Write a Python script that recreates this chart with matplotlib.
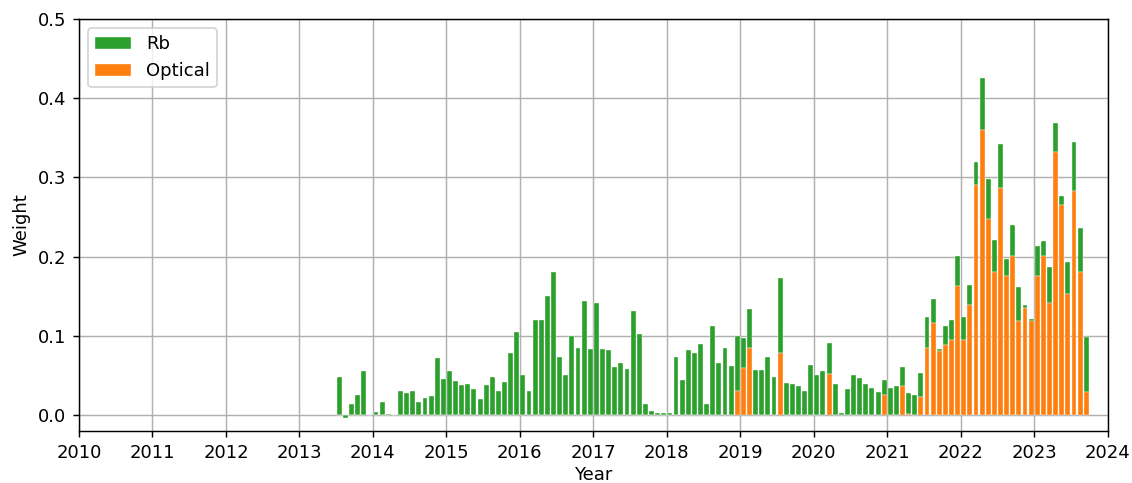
import numpy as np
import matplotlib
matplotlib.use("Agg")
import matplotlib.pyplot as plt

## Data: monthly weights, Jul 2013 .. Sep 2023 ##
start_year = 2013
start_month = 7

rb = [
    # 2013 Jul-Dec
    0.048, -0.004, 0.0135, 0.026, 0.0557, 0.0,
    # 2014
    0.0034, 0.017, 0.0015, 0.0, 0.030, 0.028, 0.030, 0.017, 0.0215, 0.0245, 0.0717, 0.046,
    # 2015
    0.0557, 0.0426, 0.038, 0.039, 0.033, 0.0198, 0.038, 0.0477, 0.030, 0.0414, 0.0785, 0.1046,
    # 2016
    0.0506, 0.031, 0.1207, 0.1207, 0.1498, 0.1806, 0.0734, 0.0506, 0.0996, 0.0848, 0.1435, 0.083,
    # 2017
    0.1418, 0.083, 0.0819, 0.0603, 0.0654, 0.0578, 0.132, 0.103, 0.0135, 0.0055, 0.0028, 0.0028,
    # 2018
    0.0028, 0.0734, 0.0443, 0.0819, 0.078, 0.0899, 0.0135, 0.1127, 0.0654, 0.0848, 0.062, 0.0686,
    # 2019
    0.0389, 0.049, 0.0574, 0.0574, 0.0734, 0.0477, 0.0946, 0.041, 0.039, 0.0363, 0.031, 0.0637,
    # 2020
    0.0506, 0.0557, 0.0393, 0.0397, 0.0025, 0.033, 0.0506, 0.0473, 0.039, 0.0346, 0.0295, 0.0193,
    # 2021
    0.0346, 0.0363, 0.024, 0.0263, 0.025, 0.0295, 0.0388, 0.0308, 0.0016, 0.0241, 0.0257, 0.0371,
    # 2022
    0.0287, 0.0258, 0.0291, 0.0655, 0.051, 0.0405, 0.0548, 0.021, 0.0393, 0.0426, 0.0034, 0.0016,
    # 2023 Jan-Sep
    0.037, 0.0194, 0.0455, 0.037, 0.0114, 0.0407, 0.0615, 0.0549, 0.0697,
]

optical = [
    # 2013 Jul-Dec
    0, 0, 0, 0, 0, 0,
    # 2014
    0, 0, 0, 0, 0, 0, 0, 0, 0, 0, 0, 0,
    # 2015
    0, 0, 0, 0, 0, 0, 0, 0, 0, 0, 0, 0,
    # 2016
    0, 0, 0, 0, 0, 0, 0, 0, 0, 0, 0, 0,
    # 2017
    0, 0, 0, 0, 0, 0, 0, 0, 0, 0, 0, 0,
    # 2018
    0, 0, 0, 0, 0, 0, 0, 0, 0, 0, 0, 0.031,
    # 2019
    0.059, 0.0848, 0, 0, 0, 0, 0.078, 0, 0, 0, 0, 0,
    # 2020
    0, 0, 0.0523, 0, 0, 0, 0, 0, 0, 0, 0, 0.025,
    # 2021
    0, 0, 0.0363, 0.002, 0, 0.0232, 0.0852, 0.116, 0.0814, 0.0886, 0.095, 0.1633,
    # 2022
    0.0949, 0.1388, 0.2899, 0.3595, 0.2473, 0.181, 0.287, 0.176, 0.2004, 0.119, 0.1354, 0.1194,
    # 2023 Jan-Sep
    0.176, 0.2004, 0.1418, 0.332, 0.2654, 0.153, 0.2835, 0.181, 0.0295,
]

year_ticks = list(range(2010, 2025))

## Plot ##
rb = np.array(rb)
optical = np.array(optical)
idx = np.arange(len(rb))
# bar centred in the middle of each month, in decimal years
x = start_year + (start_month - 1 + idx + 0.5) / 12
width = 0.8 / 12

DPI = 130
fig = plt.figure(figsize=(1132 / DPI, 483 / DPI), dpi=DPI)
ax = fig.add_axes([0.0698, 0.1077, 0.9087, 0.853])

ax.bar(x, rb, width=width, bottom=optical, color="tab:green",
       edgecolor="white", linewidth=0.2, label="Rb")
ax.bar(x, optical, width=width, color="tab:orange",
       edgecolor="white", linewidth=0.2, label="Optical")

ax.set_xlim(2010, 2024)
ax.set_ylim(-0.02, 0.5)
ax.set_xticks(year_ticks)
ax.set_xticklabels([str(y) for y in year_ticks])
ax.set_yticks([0.0, 0.1, 0.2, 0.3, 0.4, 0.5])
ax.grid(True)
ax.set_axisbelow(True)
ax.set_xlabel("Year", labelpad=2.5)
ax.set_ylabel("Weight")
ax.legend(loc="upper left")

fig.savefig("out.png", dpi=DPI)
